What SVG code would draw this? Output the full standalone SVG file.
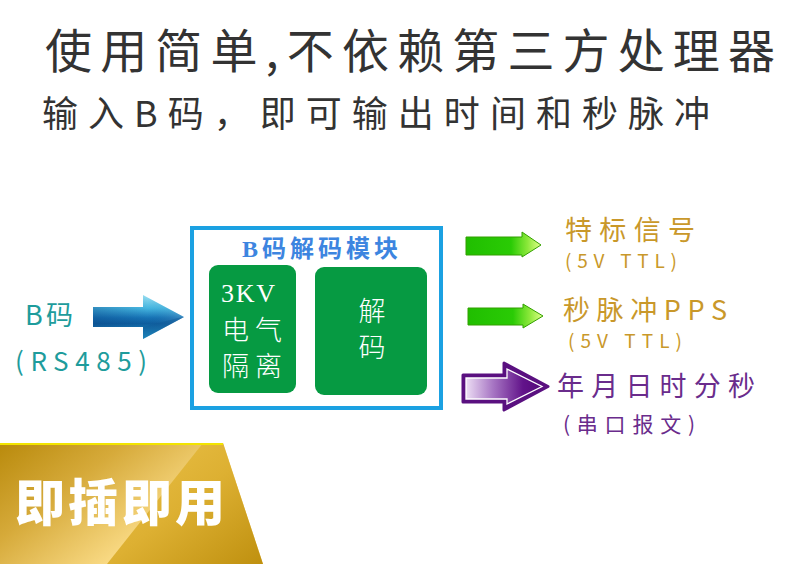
<svg xmlns="http://www.w3.org/2000/svg" width="800" height="564" viewBox="0 0 800 564">
<defs>
<style>
.cjk{font-family:"Noto Sans CJK SC","Noto Sans",sans-serif}
.gold{fill:#C9982A}
.purple{fill:#6A2C8C}
.teal{fill:#1E9C9C}
.inner{fill:#FFFFFF;font-weight:300}
.garrow{stroke:#33A000;stroke-width:1;stroke-linejoin:round}
</style>
<linearGradient id="gGold" x1="0" y1="0" x2="1" y2="0.6">
<stop offset="0" stop-color="#B98A0C"/>
<stop offset="0.35" stop-color="#D6AA3A"/>
<stop offset="0.75" stop-color="#FADB86"/>
<stop offset="1" stop-color="#F6D271"/>
</linearGradient>
<linearGradient id="gGold2" x1="0" y1="0" x2="1" y2="1">
<stop offset="0" stop-color="#EBC24A"/>
<stop offset="0.5" stop-color="#DDB032"/>
<stop offset="1" stop-color="#BF900F"/>
</linearGradient>
<linearGradient id="gBlue" x1="0" y1="0" x2="0" y2="1">
<stop offset="0" stop-color="#9BE0F2"/>
<stop offset="0.3" stop-color="#45B6E0"/>
<stop offset="0.52" stop-color="#1672B4"/>
<stop offset="0.65" stop-color="#0F5E9E"/>
<stop offset="1" stop-color="#2DA9D6"/>
</linearGradient>
<linearGradient id="gBlueH" x1="0" y1="0" x2="1" y2="0">
<stop offset="0" stop-color="#083F80" stop-opacity="0.35"/>
<stop offset="0.6" stop-color="#083F80" stop-opacity="0"/>
<stop offset="1" stop-color="#FFFFFF" stop-opacity="0.15"/>
</linearGradient>
<linearGradient id="gGreen" x1="0" y1="0" x2="1" y2="0">
<stop offset="0" stop-color="#20BE00"/>
<stop offset="0.6" stop-color="#2ACB05"/>
<stop offset="0.82" stop-color="#8BE83A"/>
<stop offset="1" stop-color="#E2FF8C"/>
</linearGradient>
<linearGradient id="gPurple" x1="0" y1="0" x2="1" y2="0">
<stop offset="0" stop-color="#ECDDF4"/>
<stop offset="0.35" stop-color="#A877C4"/>
<stop offset="0.75" stop-color="#62138A"/>
<stop offset="1" stop-color="#54087A"/>
</linearGradient>
</defs>

<rect width="800" height="564" fill="#FFFFFF"/>

<g id="title">
<text class="cjk" x="45" y="68" font-size="47" font-weight="400" fill="#333333" textLength="730" lengthAdjust="spacing">使用简单,不依赖第三方处理器</text>
<text class="cjk" x="42" y="127" font-size="36" font-weight="400" fill="#333333" textLength="668" lengthAdjust="spacing">输入B码，即可输出时间和秒脉冲</text>
</g>

<g id="input">
<text class="cjk teal" x="25" y="325" font-size="27" textLength="48" lengthAdjust="spacing">B码</text>
<text class="cjk teal" x="15" y="371" font-size="26" textLength="132" lengthAdjust="spacing">(RS485)</text>
</g>

<g id="module">
<rect x="192" y="228" width="249" height="180" fill="#FFFFFF" stroke="#1BA1E2" stroke-width="4"/>
<text x="242" y="257" font-family="'Liberation Serif','Noto Sans CJK SC',serif" font-size="24" font-weight="700" fill="#3D85E0" textLength="156" lengthAdjust="spacing">B码解码模块</text>
</g>

<g id="isolation">
<rect x="209" y="265" width="87" height="128" rx="9" fill="#069A42"/>
<text x="221" y="302" font-family="'Liberation Serif',serif" font-size="26" fill="#FFFFFF" textLength="54" lengthAdjust="spacing">3KV</text>
<text class="cjk inner" x="222" y="340" font-size="27" textLength="60" lengthAdjust="spacing">电气</text>
<text class="cjk inner" x="222" y="376" font-size="27" textLength="60" lengthAdjust="spacing">隔离</text>
</g>

<g id="decode">
<rect x="315" y="267" width="112" height="128" rx="9" fill="#069A42"/>
<text class="cjk inner" x="372" y="321" font-size="27" text-anchor="middle">解</text>
<text class="cjk inner" x="372" y="357" font-size="27" text-anchor="middle">码</text>
</g>

<g id="connectors">
<g id="arrow-in">
<polygon points="93,307 143,307 143,295 184,317 143,339 143,327 93,327" fill="url(#gBlue)"/>
<polygon points="93,307 143,307 143,295 184,317 143,339 143,327 93,327" fill="url(#gBlueH)"/>
<polygon points="143,327 143,339 184,317 178,318" fill="#0F5A98" opacity="0.45"/>
</g>
<polygon class="garrow" points="466,237 522,237 522,232 541,245 522,257 522,255 466,255" fill="url(#gGreen)"/>
<polygon class="garrow" points="468,308 523,308 523,304 543,316 523,328 523,325 468,325" fill="url(#gGreen)"/>
<g id="arrow-serial">
<polygon points="463,375 504,375 504,363 548,386.5 504,410 504,402 463,402" fill="#5A1080" stroke="#5A1080" stroke-width="3" stroke-linejoin="round"/>
<polygon points="466,378 507,378 507,369 542,386.5 507,404 507,399 466,399" fill="url(#gPurple)" stroke="#FFFFFF" stroke-width="1.3" stroke-linejoin="miter"/>
</g>
</g>

<g id="output-tod">
<text class="cjk gold" x="565" y="240" font-size="27" textLength="130" lengthAdjust="spacing">特标信号</text>
<text class="cjk gold" x="565" y="268" font-size="19" textLength="112" lengthAdjust="spacing">(5V TTL)</text>
</g>

<g id="output-pps">
<text class="cjk gold" x="563" y="320" font-size="27" textLength="164" lengthAdjust="spacing">秒脉冲PPS</text>
<text class="cjk gold" x="568" y="348" font-size="19" textLength="114" lengthAdjust="spacing">(5V TTL)</text>
</g>

<g id="output-serial">
<text class="cjk purple" x="557" y="396" font-size="27" textLength="198" lengthAdjust="spacing">年月日时分秒</text>
<text class="cjk purple" x="563" y="432" font-size="21" textLength="132" lengthAdjust="spacing">(串口报文)</text>
</g>

<g id="banner">
<polygon points="0,443 223,443 263,564 0,564" fill="url(#gGold)"/>
<polygon points="203,443 223,443 263,564 107,564" fill="url(#gGold2)"/>
<line x1="0" y1="444" x2="223" y2="444" stroke="#F2E400" stroke-width="2"/>
<text class="cjk" x="15" y="521" font-size="50" font-weight="900" fill="#FFFFFF" textLength="210" lengthAdjust="spacing">即插即用</text>
</g>
</svg>
